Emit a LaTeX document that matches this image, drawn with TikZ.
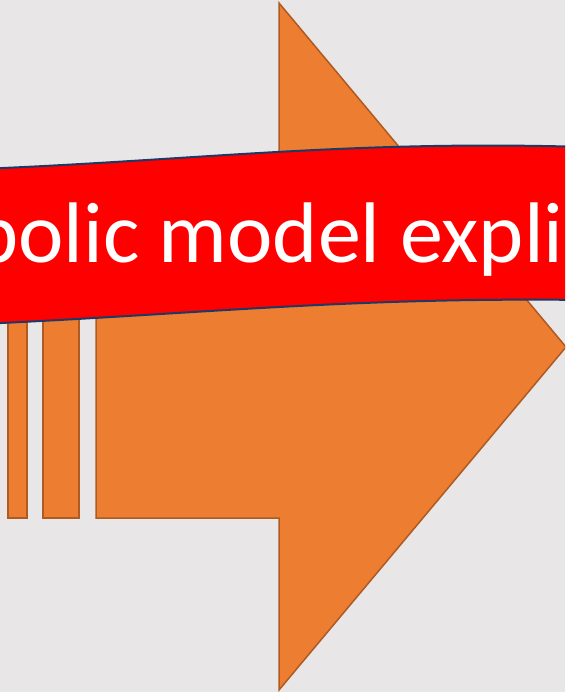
\documentclass[tikz,border=0pt]{standalone}
\usepackage{fontspec}
\setmainfont{Carlito}
\definecolor{slidebg}{RGB}{232,230,231}
\definecolor{arroworange}{RGB}{237,125,49}
\definecolor{arrowedge}{RGB}{174,90,33}
\definecolor{banneredge}{RGB}{31,56,100}
\tikzset{
	arrowpart/.style={fill=arroworange, draw=arrowedge, line width=1.5pt, line join=miter},
	banner/.style={fill=red, draw=banneredge, line width=2pt},
}
\begin{document}
\begin{tikzpicture}[x=1pt, y=-1pt]
	\useasboundingbox (0,0) rectangle (565,692);
	\fill[slidebg] (0,0) rectangle (565,692);
	\begin{scope}
	\clip (0,0) rectangle (565,692);
	% striped arrow (bars first, then the body with its head)
	\draw[arrowpart] (8,175) rectangle (27,518);
	\draw[arrowpart] (43,175) rectangle (79,518);
	\draw[arrowpart] (96,175) -- (279,175) -- (279,3) -- (566,347)
		-- (279,690) -- (279,518) -- (96,518) -- cycle;
	% wavy banner across the arrow
	\draw[banner] (-20,169) .. controls (200,160) and (350,140) .. (585,147)
		-- (585,300) .. controls (350,297) and (200,314) .. (-20,324) -- cycle;
	\node[anchor=base west, inner sep=0pt, text=white, font=\fontsize{86}{100}\selectfont]
		(title) at (-27,262) {bolic model expli};
	\end{scope}
\end{tikzpicture}
\end{document}
